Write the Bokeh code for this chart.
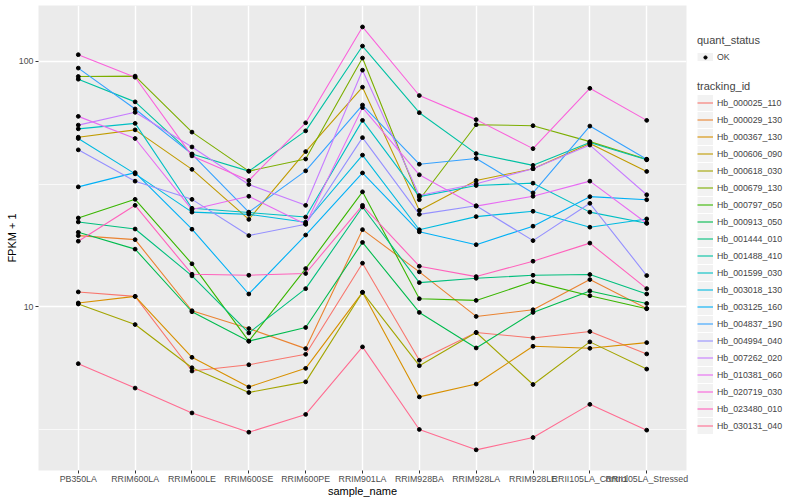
from bokeh.plotting import figure
from bokeh.models import FactorRange, Range1d, FixedTicker, Legend, LegendItem
from bokeh.layouts import row
from bokeh.embed import file_html
from bokeh.resources import INLINE

samples = ["PB350LA", "RRIM600LA", "RRIM600LE", "RRIM600SE", "RRIM600PE", "RRIM901LA",
           "RRIM928BA", "RRIM928LA", "RRIM928LE", "RRII105LA_Control", "RRII105LA_Stressed"]

tracking_ids = ["Hb_000025_110", "Hb_000029_130", "Hb_000367_130", "Hb_000606_090", "Hb_000618_030",
                "Hb_000679_130", "Hb_000797_050", "Hb_000913_050", "Hb_001444_010", "Hb_001488_410",
                "Hb_001599_030", "Hb_003018_130", "Hb_003125_160", "Hb_004837_190", "Hb_004994_040",
                "Hb_007262_020", "Hb_010381_060", "Hb_020719_030", "Hb_023480_010", "Hb_030131_040"]

colors = ["#F8766D", "#EA8331", "#D89000", "#C09B00", "#A3A500", "#7CAE00", "#39B600", "#00BB4E",
          "#00BF7D", "#00C1A3", "#00BFC4", "#00BAE0", "#00B0F6", "#35A2FF", "#9590FF", "#C77CFF",
          "#E76BF3", "#FA62DB", "#FF62BC", "#FF6C91"]

quant_status = ["OK"]

Hb_000025_110 = [11.49, 11.02, 5.47, 5.80, 6.40, 15.05, 6.05, 7.85, 7.46, 7.92, 6.42]
Hb_000029_130 = [19.49, 18.77, 9.63, 8.15, 6.75, 20.62, 13.87, 9.13, 9.72, 12.90, 9.84]
Hb_000367_130 = [10.36, 11.02, 6.22, 4.71, 5.61, 11.45, 4.29, 4.84, 6.90, 6.77, 7.14]
Hb_000606_090 = [49.1, 52.6, 36.3, 22.7, 42.9, 78.5, 24.7, 32.7, 36.5, 46.3, 35.6]
Hb_000618_030 = [10.26, 8.46, 5.64, 4.47, 4.94, 11.45, 5.75, 7.85, 4.82, 7.19, 5.57]
Hb_000679_130 = [86.8, 87.1, 51.5, 35.7, 40.0, 103.2, 27.3, 55.2, 54.7, 47.1, 39.9]
Hb_000797_050 = [23.0, 27.4, 14.96, 7.24, 14.31, 29.4, 10.78, 10.61, 12.66, 11.09, 9.81]
Hb_000913_050 = [20.11, 17.17, 9.54, 7.24, 8.23, 18.29, 9.48, 6.79, 9.48, 11.60, 10.31]
Hb_001444_010 = [22.16, 20.74, 13.36, 7.82, 11.85, 25.5, 12.54, 13.06, 13.44, 13.53, 11.27]
Hb_001488_410 = [84.6, 68.4, 41.9, 35.7, 52.1, 115.5, 61.8, 42.1, 37.7, 46.7, 39.7]
Hb_001599_030 = [53.1, 55.9, 25.2, 24.2, 23.2, 57.5, 28.1, 31.2, 31.9, 24.3, 21.9]
Hb_003018_130 = [48.5, 34.8, 24.3, 23.8, 22.1, 41.5, 20.6, 23.3, 24.5, 21.1, 22.8]
Hb_003125_160 = [30.8, 35.2, 20.7, 11.27, 19.6, 35.1, 20.2, 17.9, 21.3, 28.1, 27.3]
Hb_004837_190 = [93.9, 64.0, 41.9, 24.3, 35.8, 66.4, 38.1, 40.2, 29.1, 54.5, 39.9]
Hb_004994_040 = [43.6, 32.5, 27.4, 19.5, 21.7, 48.9, 23.8, 25.8, 18.6, 26.4, 13.4]
Hb_007262_020 = [55.0, 62.0, 44.8, 31.5, 25.9, 92.1, 28.4, 31.7, 36.5, 45.6, 28.6]
Hb_010381_060 = [59.7, 48.5, 24.9, 28.2, 21.7, 64.8, 34.5, 25.7, 28.2, 32.5, 21.9]
Hb_020719_030 = [106.5, 86.2, 41.2, 32.7, 56.2, 138.2, 72.6, 57.9, 44.1, 77.7, 57.5]
Hb_023480_010 = [18.5, 25.9, 13.57, 13.44, 13.66, 25.9, 14.63, 13.27, 15.33, 18.17, 11.85]
Hb_030131_040 = [5.86, 4.66, 3.69, 3.08, 3.64, 6.86, 3.16, 2.61, 2.93, 4.00, 3.14]

series = [Hb_000025_110, Hb_000029_130, Hb_000367_130, Hb_000606_090, Hb_000618_030,
          Hb_000679_130, Hb_000797_050, Hb_000913_050, Hb_001444_010, Hb_001488_410,
          Hb_001599_030, Hb_003018_130, Hb_003125_160, Hb_004837_190, Hb_004994_040,
          Hb_007262_020, Hb_010381_060, Hb_020719_030, Hb_023480_010, Hb_030131_040]

FONT = "Liberation Sans"
H = 500
W_MAIN = 690
W_LEG = 110

p = figure(x_range=FactorRange(factors=samples, range_padding=0.2, range_padding_units="absolute"),
           y_range=Range1d(2.15, 169), y_axis_type="log",
           width=W_MAIN, height=H, output_backend="svg", toolbar_location=None,
           min_border_left=38, min_border_right=4, min_border_top=5, min_border_bottom=30)

p.background_fill_color = "#EBEBEB"
p.border_fill_color = "white"
p.outline_line_color = None

yt = FixedTicker(ticks=[10, 100], minor_ticks=[3.1623, 31.623])
p.yaxis.ticker = yt
p.ygrid.ticker = yt
p.yaxis.major_label_overrides = {10: "10", 100: "100"}

p.xgrid.grid_line_color = "white"
p.xgrid.grid_line_width = 1.4
p.ygrid.grid_line_color = "white"
p.ygrid.grid_line_width = 1.4
p.ygrid.minor_grid_line_color = "white"
p.ygrid.minor_grid_line_width = 0.7

for ax in (p.xaxis[0], p.yaxis[0]):
    ax.axis_line_color = None
    ax.major_tick_line_color = "#333333"
    ax.major_tick_in = 0
    ax.major_tick_out = 3
    ax.minor_tick_line_color = None
    ax.major_label_text_font = FONT
    ax.major_label_text_font_size = "8.8px"
    ax.major_label_text_color = "#4D4D4D"
    ax.axis_label_text_font = FONT
    ax.axis_label_text_font_size = "11px"
    ax.axis_label_text_font_style = "normal"
    ax.axis_label_text_color = "black"

p.xaxis.axis_label = "sample_name"
p.yaxis.axis_label = "FPKM + 1"
p.xaxis.major_label_standoff = 0
p.xaxis.axis_label_standoff = -2
p.yaxis.major_label_standoff = 1
p.yaxis.axis_label_standoff = -2

for name, col, vals in zip(tracking_ids, colors, series):
    p.line(x=samples, y=vals, line_color=col, line_width=1.1)

xs, ys = [], []
for vals in series:
    xs.extend(samples)
    ys.extend(vals)
p.scatter(x=xs, y=ys, size=3.8, color="black")

# legend panel (frame aligned with the main plot's frame)
lp = figure(width=W_LEG, height=H, output_backend="svg", toolbar_location=None,
            x_range=Range1d(0, 1), y_range=Range1d(0, 1),
            x_axis_location=None, y_axis_location=None,
            min_border_left=0, min_border_right=0, min_border_top=0, min_border_bottom=0)
lp.grid.visible = False
lp.outline_line_color = None
lp.background_fill_color = "white"

# key renderers: their data lies outside the panel's ranges, so only the legend shows them
off = [10, 11]
bg = lp.line(x=off, y=off, line_color="#F2F2F2", line_width=16)
key_pt = lp.scatter(x=off, y=off, size=4, color="black")
key_lines = [lp.line(x=off, y=off, line_color=c, line_width=1.1) for c in colors]


def style_legend(lg, gh=17):
    lg.padding = 0
    lg.margin = 0
    lg.spacing = 0
    lg.glyph_width = 16
    lg.glyph_height = gh
    lg.label_height = 17
    lg.label_standoff = 4
    lg.label_text_font = FONT
    lg.label_text_font_size = "8.8px"
    lg.title_text_font = FONT
    lg.title_text_font_size = "11px"
    lg.title_text_font_style = "normal"
    lg.title_standoff = 2
    lg.border_line_color = None
    lg.background_fill_alpha = 0


leg1 = Legend(items=[LegendItem(label=s, renderers=[bg, key_pt]) for s in quant_status],
              title="quant_status", location=(7, 405))
leg2 = Legend(items=[LegendItem(label=n, renderers=[bg, r]) for n, r in zip(tracking_ids, key_lines)],
              title="tracking_id", location=(7, 36))
style_legend(leg1, gh=8)
style_legend(leg2)
lp.add_layout(leg1)
lp.add_layout(leg2)

layout = row(p, lp)
open("out.html", "w").write(file_html(layout, INLINE))
